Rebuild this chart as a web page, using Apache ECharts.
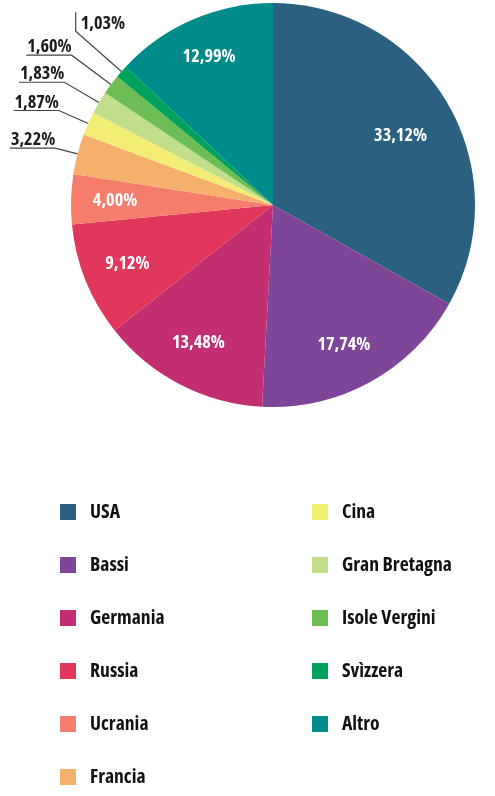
<!DOCTYPE html>
<html><head><meta charset="utf-8">
<script src="https://cdn.jsdelivr.net/npm/echarts@6/dist/echarts.min.js"></script>
<style>html,body{margin:0;padding:0;background:#fff}#c{width:495px;height:796px}</style>
</head><body><div id="c"></div>
<script>
// ---- data ----
const categories = ['USA','Bassi','Germania','Russia','Ucrania','Francia','Cina','Gran Bretagna','Isole Vergini','Svìzzera','Altro'];
const values = [33.12, 17.74, 13.48, 9.12, 4.00, 3.22, 1.87, 1.83, 1.60, 1.03, 12.99];
const legendLeft = categories.slice(0, 6);
const legendRight = categories.slice(6);

// ---- style ----
const colors = ['#2b6080','#7e4699','#c22e6f','#e0375a','#f47e6b','#f5b06c','#f2ed75','#c1de8b','#6dbd55','#00a15c','#008b8b'];
const CX = 273, CY = 205, R = 202;
const outsideLabel = [false,false,false,false,false,true,true,true,true,true,false];
const insideRadius = [145,157,157,157,158,0,0,0,0,0,161];
const insideNudgeDeg = [2,2,1,0,0,0,0,0,0,0,0];
const lineLen = [0,0,0,0,0,23,32,40,49,61,0];
const verticalLeader = [false,false,false,false,false,false,false,false,false,true,false];

// pick the narrowest bold face installed (reference uses a condensed bold)
function pickFont(){
  const ctx = document.createElement('canvas').getContext('2d');
  const cands = [
    {fam:'"Liberation Sans Narrow"', w:'bold'},
    {fam:'"Arial Narrow"', w:'bold'},
    {fam:'"DejaVu Sans Condensed"', w:'bold'},
    {fam:'"Roboto Condensed"', w:'bold'},
    {fam:'"Open Sans Condensed"', w:'bold'},
    {fam:'"Noto Sans"', w:'bold condensed'},
    {fam:'"Open Sans"', w:'bold condensed'},
    {fam:'Roboto', w:'bold condensed'},
    {fam:'"DejaVu Sans"', w:'bold condensed'},
    {fam:'"Liberation Sans"', w:'bold'}
  ];
  let best = {fam:'"Liberation Sans"', w:'bold', width:1e9};
  for (const f of cands){
    ctx.font = '10px monospace';
    const before = ctx.font;
    ctx.font = f.w + ' 100px ' + f.fam + ', monospace';
    if (ctx.font === before) continue;
    const width = ctx.measureText('Gran Bretagna 33,12%').width;
    if (width < best.width) best = Object.assign({}, f, {width});
  }
  ctx.font = best.w + ' 100px ' + best.fam + ', sans-serif';
  best.legendW = ctx.measureText('Gran Bretagna').width / 100;
  best.labelW = ctx.measureText('33,12%').width / 100;
  return best;
}
const F = pickFont();
const FONT = F.fam + ', "Liberation Sans", sans-serif';
const WEIGHT = F.w;
const clamp = (v,a,b)=>Math.max(a,Math.min(b,v));
const legendSize = clamp(110 / F.legendW, 16, 21);
const labelSize = clamp(53 / F.labelW, 14, 20);

const total = values.reduce((a,b)=>a+b,0);
function midAngle(i){
  let s = 0; for (let k=0;k<i;k++) s += values[k];
  return (s + values[i]/2) / total * 360;
}
const fmt = v => v.toFixed(2).replace('.', ',') + '%';

const chart = echarts.init(document.getElementById('c'), null, {renderer:'canvas'});
const data = categories.map((n,i)=>({
  name:n, value:values[i],
  itemStyle:{color:colors[i]},
  label:{color: outsideLabel[i] ? '#1a1a1a' : '#ffffff'},
  labelLine:{show: outsideLabel[i]}
}));

const legendBase = {
  orient:'vertical', top:502, padding:0, itemWidth:16, itemHeight:16, itemGap:33,
  icon:'rect', selectedMode:false,
  textStyle:{fontFamily:FONT, fontWeight:WEIGHT, fontSize:legendSize, color:'#111', lineHeight:20, padding:[0,0,0,9]}
};

chart.setOption({
  animation:false,
  backgroundColor:'#fff',
  legend:[
    Object.assign({}, legendBase, {data:legendLeft, left:60}),
    Object.assign({}, legendBase, {data:legendRight, left:312})
  ],
  series:[{
    type:'pie',
    center:[CX, CY],
    radius:[0, R],
    startAngle:90,
    clockwise:true,
    silent:true,
    avoidLabelOverlap:false,
    itemStyle:{borderWidth:0},
    emphasis:{disabled:true},
    label:{
      show:true, position:'outside',
      formatter: p => fmt(p.value),
      fontFamily:FONT, fontWeight:WEIGHT, fontSize:labelSize
    },
    labelLine:{show:true, length:20, length2:10, lineStyle:{color:'#444', width:1.2}},
    labelLayout: function(params){
      const i = params.dataIndex;
      let th = midAngle(i);
      if (!outsideLabel[i]) {
        th = (th + insideNudgeDeg[i]) * Math.PI/180;
        const r = insideRadius[i];
        return {x: CX + r*Math.sin(th), y: CY - r*Math.cos(th), align:'center', verticalAlign:'middle'};
      }
      th = th*Math.PI/180;
      const dx = Math.sin(th), dy = -Math.cos(th);
      const p0 = [CX + R*dx, CY + R*dy];
      const p1 = [p0[0] + lineLen[i]*dx, p0[1] + lineLen[i]*dy];
      if (verticalLeader[i]) {
        const p2 = [p1[0], p1[1] - 19];
        return {x:p1[0] + 5, y:p1[1] + 2, align:'left', verticalAlign:'bottom', labelLinePoints:[p0,p1,p2]};
      }
      const w = params.labelRect.width;
      const p2 = [p1[0] - w - 1, p1[1]];
      return {x:p1[0], y:p1[1] + 1, align:'right', verticalAlign:'bottom', labelLinePoints:[p0,p1,p2]};
    },
    data:data
  }]
});
</script>
</body></html>
